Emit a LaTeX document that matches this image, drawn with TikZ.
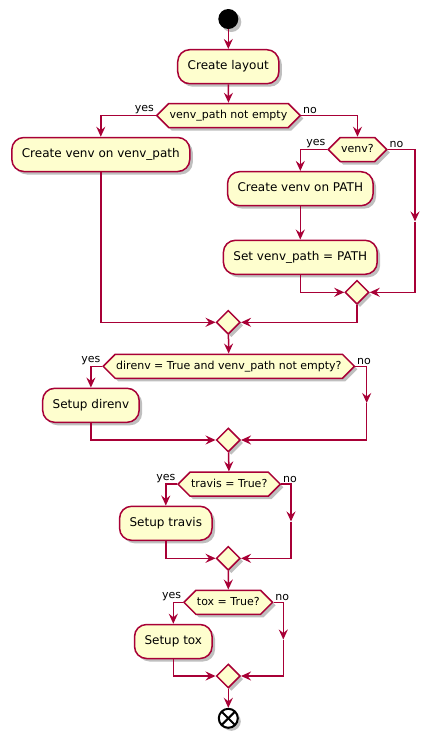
\documentclass[tikz,border=0pt]{standalone}
\usepackage{fontspec}
\setmainfont{DejaVu Sans}
\usetikzlibrary{shapes.geometric, shapes.symbols, arrows.meta, shadows}
\definecolor{umlred}{HTML}{A80036}
\definecolor{umlfill}{HTML}{FEFECE}
\begin{document}
\begin{tikzpicture}[x=1pt, y=-1pt,
    every node/.style={font=\fontsize{12}{14}\selectfont},
    umlshadow/.style={drop shadow={shadow xshift=3pt, shadow yshift=-3pt, opacity=0.25, fill=black}},
    action/.style={draw=umlred, fill=umlfill, line width=1.5pt, rounded corners=12pt,
      minimum height=34pt, inner xsep=10pt, text height=9pt, text depth=3pt, umlshadow},
    choice/.style={signal, signal to=west and east, signal pointer angle=90,
      draw=umlred, fill=umlfill, line width=1.5pt, font=\fontsize{11}{13}\selectfont,
      inner xsep=1pt, inner ysep=6.5pt, text height=8.5pt, text depth=2.5pt, umlshadow},
    merge/.style={diamond, draw=umlred, fill=umlfill, line width=1.5pt,
      minimum width=24pt, minimum height=24pt, inner sep=0pt, umlshadow},
    flow/.style={draw=umlred, line width=1.5pt, -{Stealth[length=10pt, width=9pt, inset=3.5pt]}},
    plain/.style={draw=umlred, line width=1.5pt},
    lbl/.style={font=\fontsize{11}{13}\selectfont, inner sep=1.5pt}
  ]
  \useasboundingbox (0,0) rectangle (429,739);
  % nodes
  \node[circle, fill=black, minimum size=20pt, inner sep=0pt, umlshadow] (start) at (228.3,19) {};
  \node[action] (layout) at (228.3,66.7) {Create layout};
  \node[choice] (c1) at (228.5,115.5) {venv\_path not empty};
  \node[action] (venvpath) at (100.8,154.5) {Create venv on venv\_path};
  \node[choice] (venv) at (357.5,149.5) {venv?};
  \node[action] (pathbox) at (300.3,188.7) {Create venv on PATH};
  \node[action] (setbox) at (300.3,257.3) {Set venv\_path = PATH};
  \coordinate (n1) at (415,221.5);
  \node[merge] (m1) at (357,292.3) {};
  \node[merge] (m2) at (228.3,322.3) {};
  \node[choice] (c2) at (228.8,366.3) {direnv = True and venv\_path not empty?};
  \node[action] (direnv) at (90.9,405.3) {Setup direnv};
  \coordinate (n2) at (366.7,403);
  \node[merge] (m3) at (228.3,440) {};
  \node[choice] (c3) at (229.2,484.2) {travis = True?};
  \node[action] (travis) at (165.8,523.3) {Setup travis};
  \coordinate (n3) at (291,521.5);
  \node[merge] (m4) at (228.3,558.3) {};
  \node[choice] (c4) at (228.3,602.3) {tox = True?};
  \node[action] (tox) at (173.3,641.5) {Setup tox};
  \coordinate (n4) at (283.3,639.5);
  \node[merge] (m5) at (228.3,676) {};
  \node[circle, draw=black, fill=white, line width=2pt, minimum size=19pt, inner sep=0pt, umlshadow] (stop) at (228.3,718.3) {};
  \draw[line width=2pt, shorten >=1pt, shorten <=1pt] (stop.45) -- (stop.225);
  \draw[line width=2pt, shorten >=1pt, shorten <=1pt] (stop.135) -- (stop.315);
  % labels
  \node[lbl, anchor=south east] at (c1.west) {yes};
  \node[lbl, anchor=south west] at (c1.east) {no};
  \node[lbl, anchor=south east] at (venv.west) {yes};
  \node[lbl, anchor=south west] at (venv.east) {no};
  \node[lbl, anchor=south east] at (c2.west) {yes};
  \node[lbl, anchor=south west] at (c2.east) {no};
  \node[lbl, anchor=south east] at (c3.west) {yes};
  \node[lbl, anchor=south west] at (c3.east) {no};
  \node[lbl, anchor=south east] at (c4.west) {yes};
  \node[lbl, anchor=south west] at (c4.east) {no};
  % connectors
  \draw[flow] (start) -- (layout);
  \draw[flow] (layout) -- (c1);
  \draw[flow] (c1.west) -| (venvpath.north);
  \draw[flow] (c1.east) -| (venv.north);
  \draw[flow] (venv.west) -| (pathbox.north);
  \draw[flow] (venv.east) -| (n1);
  \draw[flow] (n1) |- (m1.east);
  \draw[flow] (pathbox) -- (setbox);
  \draw[flow] (setbox.south) |- (m1.west);
  \draw[flow] (venvpath.south) |- (m2.west);
  \draw[flow] (m1.south) |- (m2.east);
  \draw[flow] (m2) -- (c2);
  \draw[flow] (c2.west) -| (direnv.north);
  \draw[flow] (c2.east) -| (n2);
  \draw[flow] (n2) |- (m3.east);
  \draw[flow] (direnv.south) |- (m3.west);
  \draw[flow] (m3) -- (c3);
  \draw[flow] (c3.west) -| (travis.north);
  \draw[flow] (c3.east) -| (n3);
  \draw[flow] (n3) |- (m4.east);
  \draw[flow] (travis.south) |- (m4.west);
  \draw[flow] (m4) -- (c4);
  \draw[flow] (c4.west) -| (tox.north);
  \draw[flow] (c4.east) -| (n4);
  \draw[flow] (n4) |- (m5.east);
  \draw[flow] (tox.south) |- (m5.west);
  \draw[flow] (m5) -- (stop);
\end{tikzpicture}
\end{document}
